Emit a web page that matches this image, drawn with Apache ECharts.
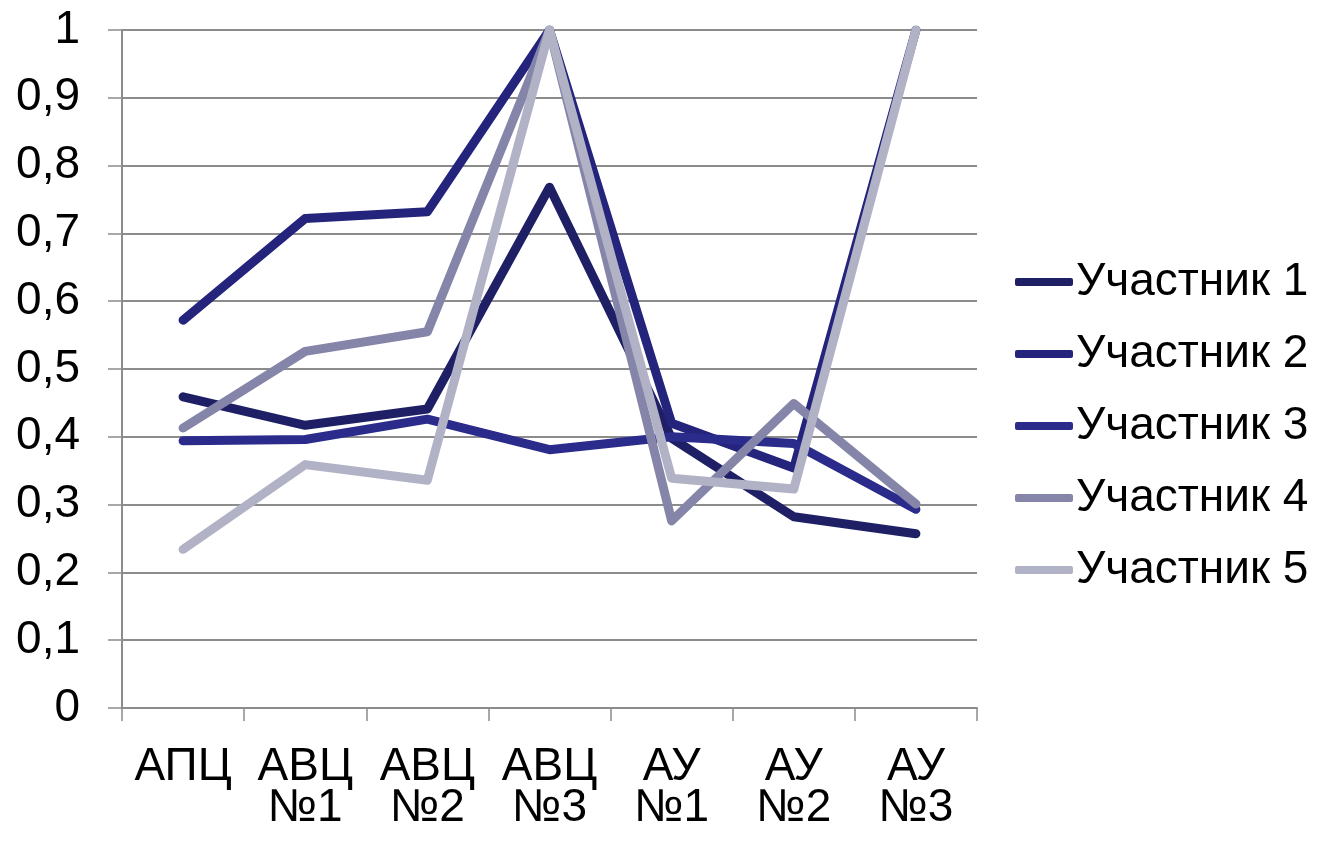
<!DOCTYPE html>
<html>
<head>
<meta charset="utf-8">
<script src="https://cdn.jsdelivr.net/npm/echarts@6/dist/echarts.min.js"></script>
<style>
  html, body { margin: 0; padding: 0; background: #fff; }
  #main { width: 1324px; height: 841px; }
</style>
</head>
<body>
<div id="main"></div>
<script>
// категории по оси X
var categories = ['АПЦ', 'АВЦ\n№1', 'АВЦ\n№2', 'АВЦ\n№3', 'АУ\n№1', 'АУ\n№2', 'АУ\n№3'];
var seriesNames = ['Участник 1', 'Участник 2', 'Участник 3', 'Участник 4', 'Участник 5'];
var uch1 = [0.459, 0.417, 0.441, 0.768, 0.398, 0.282, 0.257];
var uch2 = [0.572, 0.722, 0.732, 1, 0.420, 0.354, 1];
var uch3 = [0.394, 0.396, 0.426, 0.381, 0.400, 0.390, 0.293];
var uch4 = [0.413, 0.526, 0.555, 1, 0.276, 0.449, 0.301];
var uch5 = [0.234, 0.359, 0.336, 1, 0.339, 0.323, 1];
var colors = ['#1f1f66', '#24247c', '#2b2b8c', '#8585a9', '#b2b2c6'];

var allData = [uch1, uch2, uch3, uch4, uch5];
var font = '"Liberation Sans", Arial, sans-serif';

var chartDom = document.getElementById('main');
var myChart = echarts.init(chartDom);

var option = {
  animation: false,
  color: colors,
  grid: { left: 122, right: 347, top: 30, bottom: 133 },
  legend: {
    orient: 'vertical',
    left: 1015,
    top: 259,
    padding: 0,
    icon: 'roundRect',
    itemWidth: 58,
    itemHeight: 8,
    itemGap: 26,
    textStyle: { fontSize: 46, color: '#000', fontFamily: font, lineHeight: 44, padding: [0, 0, 0, -2] },
    data: seriesNames
  },
  xAxis: {
    type: 'category',
    data: categories,
    boundaryGap: true,
    axisLine: { lineStyle: { color: '#8c8c8c', width: 2 } },
    axisTick: { show: true, length: 13, lineStyle: { color: '#8c8c8c', width: 1.5 } },
    axisLabel: { fontSize: 46, color: '#000', fontFamily: font, lineHeight: 41, margin: 39, interval: 0 },
    splitLine: { show: false }
  },
  yAxis: {
    type: 'value',
    min: 0,
    max: 1,
    interval: 0.1,
    axisLine: { show: true, lineStyle: { color: '#8c8c8c', width: 2 } },
    axisTick: { show: true, length: 14, lineStyle: { color: '#8c8c8c', width: 1.5 } },
    axisLabel: {
      fontSize: 46, color: '#000', fontFamily: font, margin: 42,
      formatter: function (v) { return String(Math.round(v * 10) / 10).replace('.', ','); }
    },
    splitLine: { lineStyle: { color: '#8c8c8c', width: 2 } }
  },
  series: allData.map(function (d, i) {
    return {
      name: seriesNames[i],
      type: 'line',
      data: d,
      symbol: 'none',
      lineStyle: { width: 9, color: colors[i], cap: 'round', join: 'round' }
    };
  })
};

option && myChart.setOption(option);
</script>
</body>
</html>
